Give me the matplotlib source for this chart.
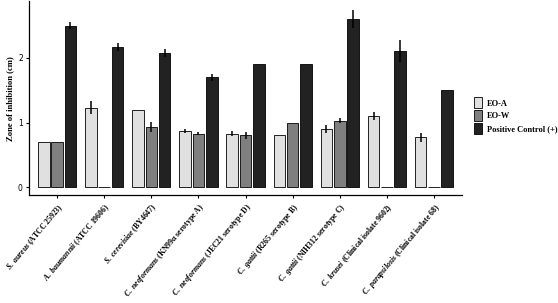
import numpy as np
import matplotlib
matplotlib.use('Agg')
import matplotlib.pyplot as plt

plt.rcParams.update({
    'font.family': 'serif',
    'font.serif': ['Liberation Serif', 'DejaVu Serif'],
    'mathtext.fontset': 'custom',
    'mathtext.rm': 'Liberation Serif:bold',
    'mathtext.it': 'Liberation Serif:italic:bold',
})

species = ['S.\\ aureus', 'A.\\ baumannii', 'S.\\ cerevisiae', 'C.\\ neoformans',
           'C.\\ neoformans', 'C.\\ gattii', 'C.\\ gattii', 'C.\\ krusei',
           'C.\\ parapsilosis']
strains = ['(ATCC 25923)', '(ATCC 19606)', '(BY4647)', '(KN99\u03b1 serotype A)',
           '(JEC21 serotype D)', '(R265 serotype B)', '(NIH312 serotype C)',
           '(Clinical isolate 9602)', '(Clinical isolate 68)']

eo_a = [0.70, 1.23, 1.20, 0.87, 0.83, 0.80, 0.90, 1.10, 0.77]
eo_a_err = [0.0, 0.10, 0.0, 0.03, 0.04, 0.0, 0.06, 0.06, 0.07]
eo_w = [0.70, 0.0, 0.93, 0.83, 0.80, 1.00, 1.03, 0.0, 0.0]
eo_w_err = [0.0, 0.0, 0.08, 0.03, 0.06, 0.0, 0.04, 0.0, 0.0]
pos = [2.50, 2.17, 2.07, 1.70, 1.90, 1.90, 2.60, 2.10, 1.50]
pos_err = [0.05, 0.06, 0.06, 0.05, 0.0, 0.0, 0.14, 0.17, 0.0]

series = [
    ('EO-A', eo_a, eo_a_err, '#e0e0e0'),
    ('EO-W', eo_w, eo_w_err, '#7f7f7f'),
    ('Positive Control (+)', pos, pos_err, '#222222'),
]

fig = plt.figure(figsize=(5.58, 3.03), dpi=100)
ax = fig.add_axes([0.052, 0.356, 0.776, 0.64])

x = np.arange(len(species))
width = 0.25
offsets = [-0.28, 0.0, 0.28]
for (label, vals, errs, col), off in zip(series, offsets):
    ax.bar(x + off, vals, width, color=col, edgecolor='black', linewidth=0.6,
           label=label, zorder=2)
    e = np.array(errs)
    m = e > 0
    ax.errorbar((x + off)[m], np.array(vals)[m], yerr=e[m], fmt='none',
                ecolor='black', elinewidth=1.1, capsize=0, zorder=3)

labels = ['$\\mathit{%s}$ %s' % (s, t) for s, t in zip(species, strains)]
ax.set_xticks(x)
ax.set_xticklabels(labels, rotation=50, ha='right', rotation_mode='anchor',
                   fontsize=5.6, fontweight='bold')
ax.set_yticks([0, 1, 2])
ax.set_yticklabels(['0', '1', '2'], family='DejaVu Sans', fontsize=5.5)
ax.set_ylabel('Zone of inhibition (cm)', fontsize=6.2, fontweight='bold', labelpad=3)
ax.set_xlim(-0.6, 8.6)
ax.set_ylim(-0.123, 2.877)
ax.tick_params(length=2.5, width=0.8, pad=2)
ax.spines['top'].set_visible(False)
ax.spines['right'].set_visible(False)
for s in ['left', 'bottom']:
    ax.spines[s].set_linewidth(0.9)

ax.legend(loc='center left', bbox_to_anchor=(1.01, 0.41), frameon=False,
          prop={'family': 'serif', 'weight': 'bold', 'size': 6},
          handlelength=1.0, handleheight=1.6, handletextpad=0.6, labelspacing=0.25)

fig.savefig('out.png', dpi=100, facecolor='white')
